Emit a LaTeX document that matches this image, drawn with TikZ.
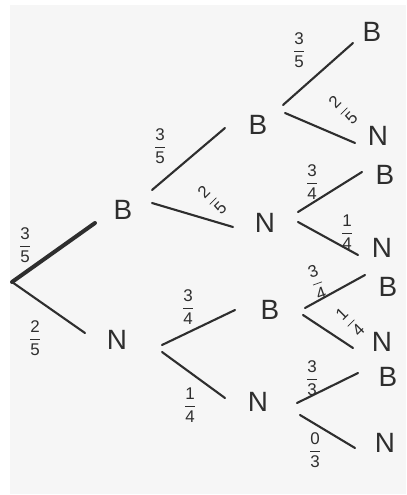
\documentclass[tikz,border=0pt]{standalone}
\usepackage{amsmath}
\usepackage{graphicx}
\usepackage{fontspec}
\setsansfont{Liberation Sans}
\newcommand\pfrac[2]{$\dfrac{\mathsf{#1}}{\mathsf{#2}}$}
\begin{document}
\begin{tikzpicture}[x=1bp,y=-1bp,
  letter/.style={font=\sffamily\fontsize{28}{30}\selectfont, text=black!82, inner sep=0pt},
  prob/.style={font=\fontsize{17}{19}\selectfont, text=black!82, inner sep=0pt},
  branch/.style={draw=black!82, line width=2.1bp, line cap=round},
  thickbranch/.style={draw=black!82, line width=4bp, line cap=round}]
\useasboundingbox (0,0) rectangle (406,495);
\fill[white] (0,0) rectangle (406,495);
\fill[black!3.5] (10,5) rectangle (406,494);

% letters
\node[letter] (B1) at (123,210) {B};
\node[letter] (N1) at (117,340) {N};
\node[letter] (BB) at (258,125) {B};
\node[letter] (BN) at (265,223) {N};
\node[letter] (NB) at (270,310) {B};
\node[letter] (NN) at (258,402) {N};
\node[letter] (BBB) at (372,32) {B};
\node[letter] (BBN) at (378,136) {N};
\node[letter] (BNB) at (385,175) {B};
\node[letter] (BNN) at (382,248) {N};
\node[letter] (NBB) at (388,287) {B};
\node[letter] (NBN) at (382,342) {N};
\node[letter] (NNB) at (388,377) {B};
\node[letter] (NNN) at (385,443) {N};

% branch end points
\coordinate (r) at (12,282);
\coordinate (r1) at (95,223);
\coordinate (r2) at (85,333);
\coordinate (b1s) at (152,190);
\coordinate (b1e) at (225,128);
\coordinate (b2s) at (152,203);
\coordinate (b2e) at (233,227);
\coordinate (n1s) at (162,345);
\coordinate (n1e) at (235,310);
\coordinate (n2s) at (162,352);
\coordinate (n2e) at (225,398);
\coordinate (bb1s) at (283,105);
\coordinate (bb1e) at (353,43);
\coordinate (bb2s) at (285,113);
\coordinate (bb2e) at (355,143);
\coordinate (bn1s) at (298,212);
\coordinate (bn1e) at (362,172);
\coordinate (bn2s) at (298,222);
\coordinate (bn2e) at (358,255);
\coordinate (nb1s) at (305,308);
\coordinate (nb1e) at (365,275);
\coordinate (nb2s) at (303,315);
\coordinate (nb2e) at (353,348);
\coordinate (nn1s) at (297,403);
\coordinate (nn1e) at (358,373);
\coordinate (nn2s) at (300,415);
\coordinate (nn2e) at (355,448);

\draw[thickbranch] (r) -- (r1);
\draw[branch] (r) -- (r2);
\draw[branch] (b1s) -- (b1e);
\draw[branch] (b2s) -- (b2e);
\draw[branch] (n1s) -- (n1e);
\draw[branch] (n2s) -- (n2e);
\draw[branch] (bb1s) -- (bb1e);
\draw[branch] (bb2s) -- (bb2e);
\draw[branch] (bn1s) -- (bn1e);
\draw[branch] (bn2s) -- (bn2e);
\draw[branch] (nb1s) -- (nb1e);
\draw[branch] (nb2s) -- (nb2e);
\draw[branch] (nn1s) -- (nn1e);
\draw[branch] (nn2s) -- (nn2e);

% probabilities
\node[prob] (p1) at (25,245) {\pfrac{3}{5}};
\node[prob] (p2) at (35,338) {\pfrac{2}{5}};
\node[prob] (p3) at (160,146) {\pfrac{3}{5}};
\node[prob] (p4) at (212,200) {\rotatebox{45}{\pfrac{2}{5}}};
\node[prob] (p5) at (188,307) {\pfrac{3}{4}};
\node[prob] (p6) at (190,405) {\pfrac{1}{4}};
\node[prob] (p7) at (299,50) {\pfrac{3}{5}};
\node[prob] (p8) at (343,110) {\rotatebox{45}{\pfrac{2}{5}}};
\node[prob] (p9) at (312,182) {\pfrac{3}{4}};
\node[prob] (p10) at (347,232) {\pfrac{1}{4}};
\node[prob] (p11) at (317,282) {\rotatebox{20}{\pfrac{3}{4}}};
\node[prob] (p12) at (350,322) {\rotatebox{45}{\pfrac{1}{4}}};
\node[prob] (p13) at (312,378) {\pfrac{3}{3}};
\node[prob] (p14) at (315,450) {\pfrac{0}{3}};
\end{tikzpicture}
\end{document}
